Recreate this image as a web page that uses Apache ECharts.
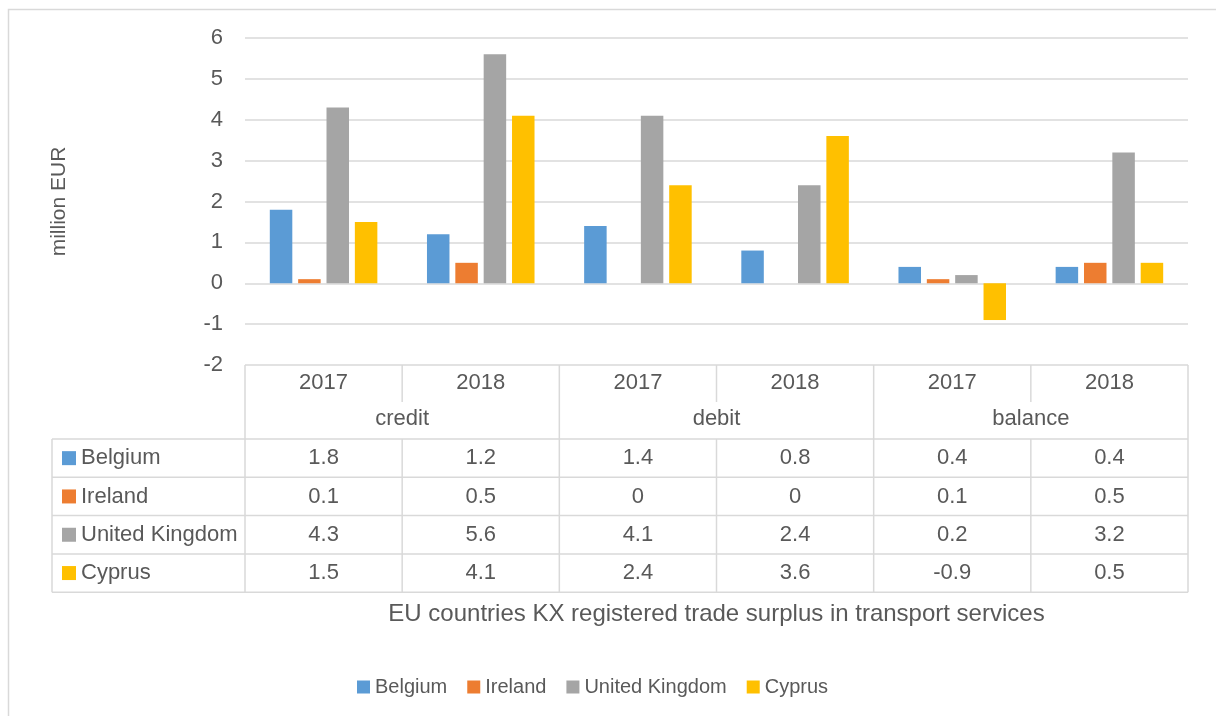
<!DOCTYPE html>
<html>
<head>
<meta charset="utf-8">
<script src="https://cdn.jsdelivr.net/npm/echarts@6/dist/echarts.min.js"></script>
<style>
  html, body { margin: 0; padding: 0; background: #fff; }
  #chart { width: 1216px; height: 716px; }
</style>
</head>
<body>
<div id="chart"></div>
<script>
// data
var years = ['2017', '2018', '2017', '2018', '2017', '2018'];
var groups = ['credit', 'debit', 'balance'];
var countries = ['Belgium', 'Ireland', 'United Kingdom', 'Cyprus'];
var belgium = [1.8, 1.2, 1.4, 0.8, 0.4, 0.4];
var ireland = [0.1, 0.5, 0, 0, 0.1, 0.5];
var unitedKingdom = [4.3, 5.6, 4.1, 2.4, 0.2, 3.2];
var cyprus = [1.5, 4.1, 2.4, 3.6, -0.9, 0.5];
var yMin = -2, yMax = 6, yStep = 1;
var colors = ['#5B9BD5', '#ED7D31', '#A5A5A5', '#FFC000'];

var seriesValues = [belgium, ireland, unitedKingdom, cyprus];
var font = '"Liberation Sans", Arial, sans-serif';
var textColor = '#595959';
var lineColor = '#d9d9d9';

var W = 1216, H = 716;
var grid = { left: 245, right: 28, top: 38, bottom: 351 };
var plotLeft = grid.left, plotRight = W - grid.right, plotBottom = H - grid.bottom;
var cellW = (plotRight - plotLeft) / years.length;
var headTop = plotBottom, headMid = plotBottom + 37, rowsTop = plotBottom + 74, rowH = 38.3;
var tableLeft = 52;

var xAxes = [{
	type: 'category', data: years, gridIndex: 0, position: 'bottom', offset: 0,
	axisLine: { show: false }, axisTick: { show: false },
	axisLabel: { fontSize: 22, color: textColor, fontFamily: font, margin: 7 }
}, {
	type: 'category', data: groups, gridIndex: 0, position: 'bottom', offset: 36,
	axisLine: { show: false }, axisTick: { show: false },
	axisLabel: { fontSize: 22, color: textColor, fontFamily: font, margin: 7 }
}];
seriesValues.forEach(function(vals, i) {
	xAxes.push({
		type: 'category', data: vals.map(String), gridIndex: 0, position: 'bottom',
		offset: rowsTop - plotBottom + rowH * i + rowH / 2 - 18,
		axisLine: { show: false }, axisTick: { show: false },
		axisLabel: { fontSize: 22, color: textColor, fontFamily: font, margin: 7 }
	});
});

var series = countries.map(function(name, i) {
	return {
		name: name,
		type: 'bar',
		xAxisIndex: 0,
		data: seriesValues[i],
		barWidth: 22.5,
		barGap: '26%',
		itemStyle: { color: colors[i] },
		animation: false
	};
});

// data table lines, legend keys and row names
var graphics = [];
function line(x1, y1, x2, y2) {
	graphics.push({
		type: 'line', silent: true,
		shape: { x1: x1, y1: y1, x2: x2, y2: y2 },
		style: { stroke: lineColor, lineWidth: 1.5 }
	});
}
graphics.push({
	type: 'rect', silent: true,
	shape: { x: 8.5, y: 9.5, width: 1400, height: 900 },
	style: { fill: 'none', stroke: lineColor, lineWidth: 1.5 }
});
var tableBottom = rowsTop + rowH * countries.length;
for (var r = 0; r <= countries.length; r++) {
	line(tableLeft, rowsTop + rowH * r, plotRight, rowsTop + rowH * r);
}
line(tableLeft, rowsTop, tableLeft, tableBottom);
for (var c = 0; c <= years.length; c++) {
	var x = plotLeft + cellW * c;
	if (c % 2 === 0) {
		line(x, headTop, x, tableBottom);
	} else {
		line(x, headTop, x, headMid);
		line(x, rowsTop, x, tableBottom);
	}
}
countries.forEach(function(name, i) {
	var cy = rowsTop + rowH * i + rowH / 2;
	graphics.push({
		type: 'rect', silent: true,
		shape: { x: 62, y: cy - 7, width: 14, height: 14 },
		style: { fill: colors[i] }
	});
	graphics.push({
		type: 'text', silent: true, x: 81, y: cy,
		style: { text: name, fill: textColor, font: '22px ' + font, textVerticalAlign: 'middle' }
	});
});
graphics.push({
	type: 'text', silent: true, x: (plotLeft + plotRight) / 2, y: 614,
	style: {
		text: 'EU countries KX registered trade surplus in transport services',
		fill: textColor, font: '24px ' + font, textAlign: 'center', textVerticalAlign: 'middle'
	}
});

var chart = echarts.init(document.getElementById('chart'), null, { renderer: 'canvas' });
chart.setOption({
	animation: false,
	color: colors,
	grid: grid,
	legend: {
		data: countries,
		left: 352,
		top: 672,
		icon: 'rect',
		itemWidth: 13,
		itemHeight: 13,
		itemGap: 20,
		textStyle: { fontSize: 20, color: textColor, fontFamily: font }
	},
	xAxis: xAxes,
	yAxis: {
		type: 'value',
		min: yMin,
		max: yMax,
		interval: yStep,
		name: 'million EUR',
		nameLocation: 'middle',
		nameRotate: 90,
		nameGap: 175,
		nameTextStyle: { fontSize: 21, color: textColor, fontFamily: font },
		axisLine: { show: false },
		axisTick: { show: false },
		axisLabel: { fontSize: 22, color: textColor, fontFamily: font, margin: 22 },
		splitLine: { lineStyle: { color: lineColor, width: 1.5 } }
	},
	graphic: graphics,
	series: series
});
</script>
</body>
</html>
